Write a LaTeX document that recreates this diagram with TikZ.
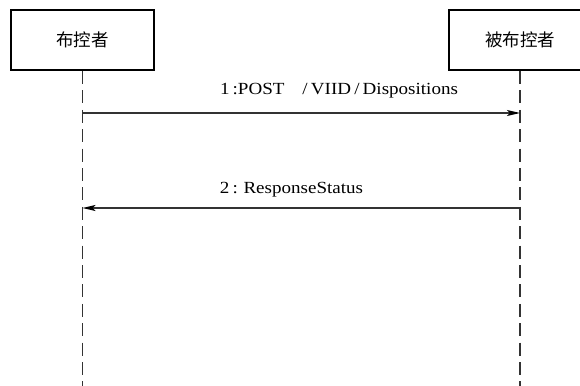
\documentclass[tikz,border=0pt]{standalone}
\usepackage{fontspec}
\setmainfont{Liberation Serif}
\newfontfamily\cjk{Noto Sans CJK SC}
\usetikzlibrary{arrows.meta}
\begin{document}
\begin{tikzpicture}[x=1pt,y=-1pt,
  actor/.style={draw=black,line width=2pt,minimum width=143pt,minimum height=60pt,inner sep=0pt,font=\cjk\fontsize{17.5}{20}\selectfont},
  lifeline/.style={draw=black!80,line width=1.3pt,dash pattern=on 13pt off 6.4pt},
  msg/.style={draw=black!80,line width=1.3pt,-{Stealth[length=13pt,width=6pt,inset=3pt,black]}},
  lbl/.style={font=\fontsize{17}{19}\selectfont,inner sep=0pt,xscale=1.12}]
\clip (0,0) rectangle (580,385);
\fill[white] (0,0) rectangle (580,385);
\node[actor] (a) at (82.5,40) {布控者};
\node[actor] (b) at (520,40) {被布控者};
\coordinate (aend) at (82.5,392);
\coordinate (bend) at (520,392);
\draw[lifeline] (a.south) -- (aend);
\draw[lifeline] (b.south) -- (bend);
\coordinate (m1s) at (82.5,113);
\coordinate (m1e) at (520,113);
\coordinate (m2s) at (520,208);
\coordinate (m2e) at (82.5,208);
\draw[msg] (m1s) -- (m1e);
\draw[msg] (m2s) -- (m2e);
\node[lbl] (l1) at (339,91) {1\,:POST\hspace{16pt}/\,VIID\,/\,Dispositions};
\node[lbl] (l2) at (291.5,190) {2\,:\hspace{5pt}ResponseStatus};
\end{tikzpicture}
\end{document}
